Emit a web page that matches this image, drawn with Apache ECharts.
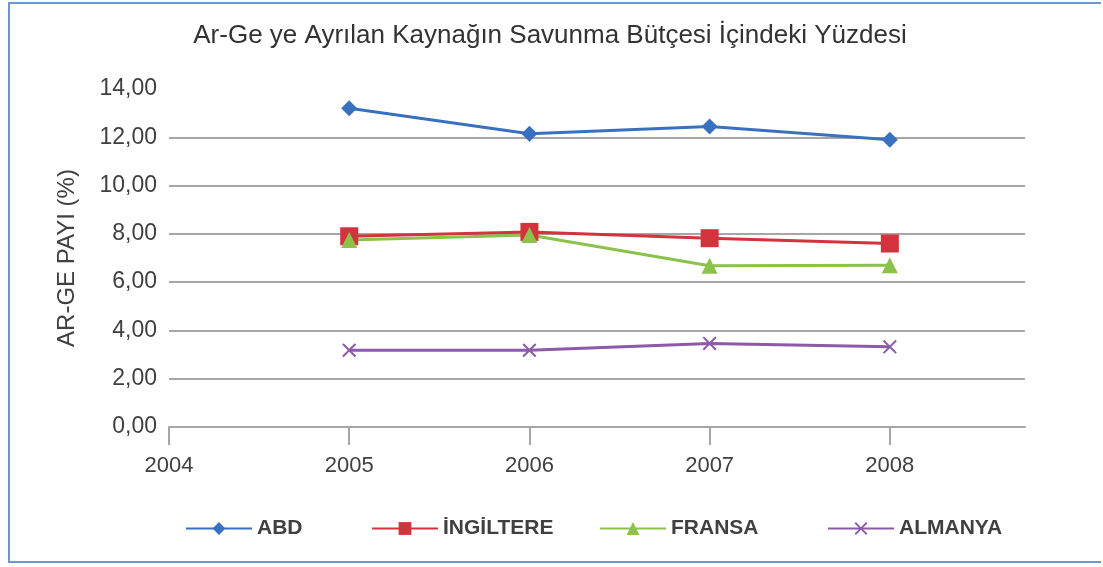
<!DOCTYPE html>
<html>
<head>
<meta charset="utf-8">
<script src="https://cdn.jsdelivr.net/npm/echarts@6/dist/echarts.min.js"></script>
<style>
  html, body { margin: 0; padding: 0; background: #fff; }
  #frame {
    position: absolute; left: 8px; top: 2px; width: 1093px; height: 561px;
    border: 2px solid #6f97cf; border-right: none; box-sizing: border-box;
  }
  #chart { position: absolute; left: 0; top: 0; width: 1103px; height: 567px; }
</style>
</head>
<body>
<div id="frame"></div>
<div id="chart"></div>
<script>
// data
const years = [2005, 2006, 2007, 2008];
const xTicks = [2004, 2005, 2006, 2007, 2008];
const abd = [13.2, 12.15, 12.45, 11.9];
const ingiltere = [7.9, 8.08, 7.82, 7.6];
const fransa = [7.75, 7.95, 6.68, 6.7];
const almanya = [3.18, 3.18, 3.46, 3.32];
const seriesNames = ['ABD', 'İNGİLTERE', 'FRANSA', 'ALMANYA'];

const font = "'Liberation Sans', Arial, sans-serif";
const crossPath = 'path://M0,1L1,0L5,4L9,0L10,1L6,5L10,9L9,10L5,6L1,10L0,9L4,5Z';
const legendLeft = [180, 366, 594, 822];

function pairs(vals) {
  return years.map((y, i) => [y, vals[i]]);
}

function makeSeries(name, vals, color, symbol, size) {
  return {
    type: 'line',
    name: name,
    data: pairs(vals),
    symbol: symbol,
    symbolSize: size,
    showAllSymbol: true,
    itemStyle: { color: color },
    lineStyle: { color: color, width: 3 },
    emphasis: { disabled: true }
  };
}

const chart = echarts.init(document.getElementById('chart'), null, { renderer: 'canvas' });

chart.setOption({
  animation: false,
  title: {
    text: 'Ar-Ge ye Ayrılan Kaynağın Savunma Bütçesi İçindeki Yüzdesi',
    left: 545,
    textAlign: 'center',
    top: 18,
    textStyle: {
      fontFamily: font,
      fontSize: 26,
      fontWeight: 'normal',
      color: '#333'
    }
  },
  legend: seriesNames.map((n, i) => ({
    data: [n],
    left: legendLeft[i],
    top: 513,
    itemWidth: 66,
    itemHeight: 16,
    itemGap: 8,
    textStyle: {
      fontFamily: font,
      fontSize: 21,
      fontWeight: 'bold',
      color: '#404040'
    }
  })),
  grid: {
    left: 169,
    right: 78,
    top: 89,
    bottom: 140
  },
  xAxis: {
    type: 'value',
    min: 2004,
    max: 2008.75,
    interval: 1,
    axisLine: { lineStyle: { color: '#a6a6a6', width: 2 } },
    axisTick: {
      show: true, length: 18, inside: false,
      customValues: xTicks,
      lineStyle: { color: '#a6a6a6', width: 2 }
    },
    splitLine: { show: false },
    axisLabel: {
      margin: 28,
      customValues: xTicks,
      fontFamily: font,
      fontSize: 22,
      color: '#404040',
      formatter: v => String(v)
    }
  },
  yAxis: {
    type: 'value',
    min: 0,
    max: 14,
    interval: 2,
    name: 'AR-GE PAYI (%)',
    nameLocation: 'middle',
    nameGap: 90,
    nameRotate: 90,
    nameTextStyle: {
      fontFamily: font,
      fontSize: 24,
      color: '#404040'
    },
    axisLine: { show: false },
    axisTick: { show: false },
    splitLine: {
      show: true,
      showMaxLine: false,
      lineStyle: { color: '#a6a6a6', width: 2 }
    },
    axisLabel: {
      margin: 12,
      fontFamily: font,
      fontSize: 23,
      color: '#404040',
      formatter: v => v.toFixed(2).replace('.', ',')
    }
  },
  series: [
    makeSeries(seriesNames[0], abd, '#3a70c0', 'diamond', 16),
    makeSeries(seriesNames[1], ingiltere, '#d2333c', 'rect', 18),
    makeSeries(seriesNames[2], fransa, '#8cc24a', 'triangle', 16),
    makeSeries(seriesNames[3], almanya, '#8b5aa8', crossPath, 14)
  ]
});
</script>
</body>
</html>
